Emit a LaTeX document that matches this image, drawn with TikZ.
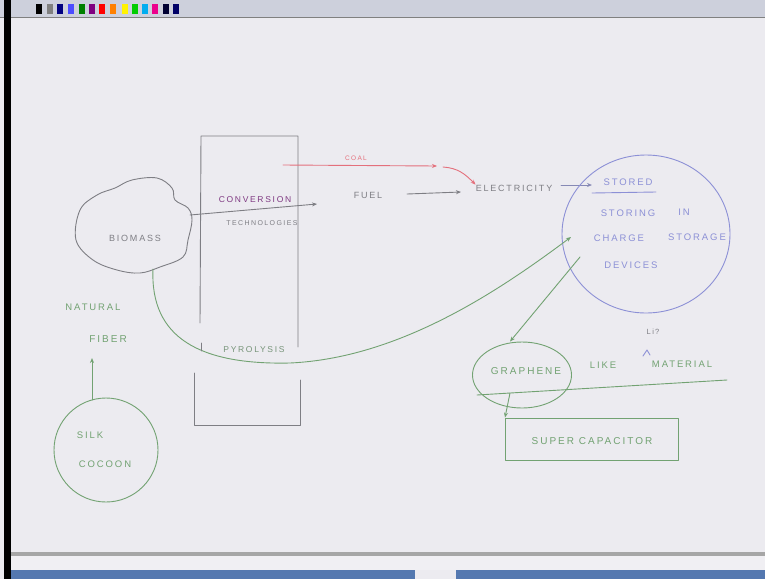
\documentclass[tikz,border=0pt]{standalone}
\usepackage{fontspec}
\setmainfont{Liberation Sans}
\newfontfamily\hand[LetterSpace=20]{Liberation Sans}
\usetikzlibrary{arrows.meta,shapes.geometric}
\definecolor{bg}{HTML}{ECEBF0}
\definecolor{pen}{HTML}{7E7E84}
\definecolor{redpen}{HTML}{E4707C}
\definecolor{bluepen}{HTML}{8C90D6}
\definecolor{greenpen}{HTML}{72A272}
\definecolor{barblue}{HTML}{5478B0}
\definecolor{toolbar}{HTML}{CDD0DC}
\newcommand{\fs}[1]{\hand\fontsize{#1}{#1}\selectfont}
\tikzset{
  txt/.style={inner sep=0pt, font=\fs{9}},
  ink/.style={line width=0.9pt, line cap=round, line join=round},
  arr/.style={ink, -{Stealth[length=5pt,width=4pt]}},
  swatch/.style={minimum width=6pt, minimum height=10pt, inner sep=0pt, anchor=north west}
}
\begin{document}
\begin{tikzpicture}[x=1pt,y=-1pt]
\useasboundingbox (0,0) rectangle (765,579);
% window frame
\fill[bg] (0,0) rectangle (765,579);
\fill[toolbar] (0,0) rectangle (765,17);
\draw[gray,line width=0.8pt] (0,17) -- (765,17);
\foreach \x/\c in {36/black,47/gray,57/blue!50!black,68/blue!70,79/green!50!black,89/violet,99/red,110/orange,122/yellow,132/green!80!black,142/cyan,152/magenta,163/black!80!blue,173/blue!40!black}
  \node[swatch, fill=\c] at (\x,4) {};
\fill[black] (4,0) rectangle (11,579);
\fill[gray!70] (11,552) rectangle (765,556);
\fill[bg!80!white] (11,556) rectangle (765,570);
\fill[barblue] (11,570) rectangle (415,579);
\fill[barblue] (456,570) rectangle (765,579);

% biomass cloud
\draw[ink,pen] plot[smooth cycle,tension=0.6] coordinates {(80,210) (97,195) (115,188) (132,180) (157,178) (172,188) (175,200) (188,208) (192,220) (188,240) (183,257) (160,267) (140,273) (117,270) (93,260) (76,240)};
\node[txt,pen] (biomass) at (135,238) {BIOMASS};

% conversion column
\coordinate (colTL) at (201,136);
\coordinate (colTR) at (298,136);
\coordinate (colBL) at (194,425);
\coordinate (colBR) at (300,425);
\draw[ink,pen] (200,323) -- (colTL) -- (colTR) -- (298,347);
\draw[ink,pen] (300,380) -- (colBR) -- (colBL) -- (194,373);

% conversion arrow
\coordinate (bioR) at (190,215);
\coordinate (convEnd) at (317,204);
\draw[arr,pen] (bioR) -- (convEnd);
\node[txt,violet!55!pen,font=\fs{8.5}] (conv) at (255,200) {CONVERSION};
\node[txt,pen,font=\fs{7}] (tech) at (262,223) {TECHNOLOGIES};

% coal line (red)
\coordinate (coalStart) at (283,165);
\coordinate (coalEnd) at (437,166);
\draw[arr,redpen] (coalStart) -- (coalEnd);
\node[txt,redpen,font=\fs{6.5}] (coal) at (356,158) {COAL};
\coordinate (coalBend) at (443,167);

% fuel / electricity
\node[txt,pen] (fuel) at (368,195) {FUEL};
\node[txt,pen] (elec) at (514,188) {ELECTRICITY};
\draw[arr,redpen] (coalBend) .. controls (458,168) and (465,174) .. (elec.north west);
\coordinate (fuelA) at (407,194);
\coordinate (fuelB) at (461,192);
\draw[arr,pen] (fuelA) -- (fuelB);
\coordinate (elecR) at (561,185);
\coordinate (storeIn) at (592,185);
\draw[arr,bluepen!60!pen] (elecR) -- (storeIn);

% storage circle
\node[draw=bluepen, ink, ellipse, minimum width=168pt, minimum height=158pt, inner sep=0pt] (store) at (646,234) {};
\node[txt,bluepen,font=\fs{9.5}] (stored) at (628,182) {STORED};
\draw[ink,bluepen] (592,193) -- (656,192);
\node[txt,bluepen,font=\fs{9.5}] (storing) at (628,213) {STORING};
\node[txt,bluepen,font=\fs{9.5}] (in) at (684,212) {IN};
\node[txt,bluepen,font=\fs{9.5}] (charge) at (619,238) {CHARGE};
\node[txt,bluepen,font=\fs{9.5}] (storage) at (697,237) {STORAGE};
\node[txt,bluepen,font=\fs{9.5}] (devices) at (631,265) {DEVICES};

% pyrolysis curve
\coordinate (bioB) at (153,269);
\coordinate (storeL) at (571,237);
\draw[arr,greenpen] (bioB) .. controls (150,338) and (200,365) .. (290,363) .. controls (400,358) and (500,290) .. (storeL);
\node[txt,greenpen!60!pen,font=\fs{8.5}] (pyro) at (254,350) {PYROLYSIS};
\draw[ink,pen] (201,343) -- (201,351);

% graphene
\node[draw=greenpen, ink, ellipse, minimum width=99pt, minimum height=66pt, inner sep=0pt] (graph) at (522,375) {};
\node[txt,greenpen,font=\fs{10}] (graphtxt) at (526,371) {GRAPHENE};
\coordinate (storeBL) at (580,257);
\draw[arr,greenpen] (storeBL) -- (graph.north -| 510,0);
\node[txt,pen,font=\fs{7.5}] (li) at (653,332) {Li\,?};
\draw[ink,bluepen] (643,356) -- (647,350) -- (650,355);
\node[txt,greenpen,font=\fs{9.5}] (like) at (603,365) {LIKE};
\node[txt,greenpen,font=\fs{9.5}] (material) at (682,364) {MATERIAL};
\coordinate (lineA) at (477,395);
\coordinate (lineB) at (727,380);
\draw[ink,greenpen] (lineA) -- (lineB);

% super capacitor
\node[draw=greenpen, ink, minimum width=173pt, minimum height=42pt, inner sep=0pt] (super) at (591.5,439) {};
\node[txt,greenpen,font=\fs{10}] (supertxt) at (592,441) {SUPER CAPACITOR};
\coordinate (graphB) at (510,393);
\draw[arr,greenpen] (graphB) -- (super.north west -| 505,0);

% natural fiber / silk cocoon
\node[txt,greenpen,font=\fs{9.5}] (natural) at (93,307) {NATURAL};
\node[txt,greenpen,font=\fs{10}] (fiber) at (108,339) {FIBER};
\node[draw=greenpen, ink, circle, minimum width=104pt, inner sep=0pt] (silk) at (106,450) {};
\node[txt,greenpen,font=\fs{9.5}] (silktxt) at (90,435) {SILK};
\node[txt,greenpen,font=\fs{9.5}] (cocoon) at (105,464) {COCOON};
\coordinate (silkTop) at (92,400);
\coordinate (fiberB) at (92,358);
\draw[arr,greenpen] (silkTop) -- (fiberB);
\end{tikzpicture}
\end{document}
